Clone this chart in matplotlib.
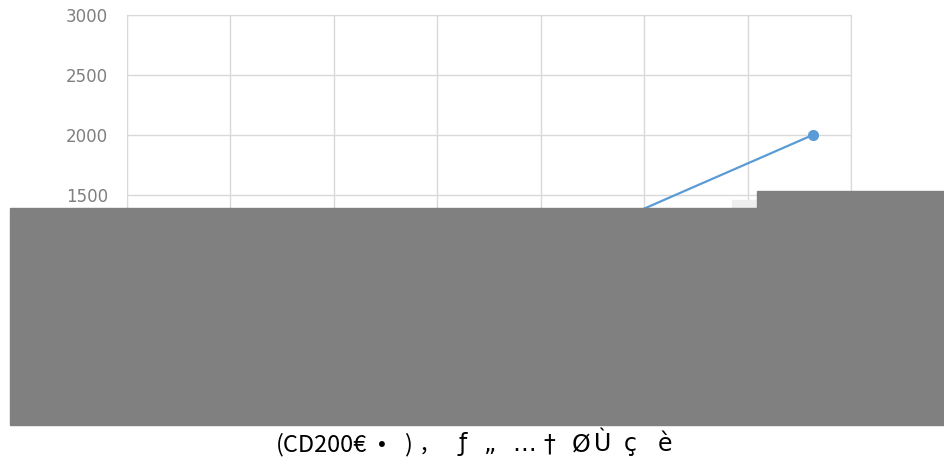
import matplotlib.pyplot as plt
from matplotlib.patches import Rectangle

# data (lower part is hidden by the grey box in the reference)
x_vals = [1.0, 2.5, 4.0, 6.63]
y_vals = [420, 650, 1010, 2000]
y_ticks = [0, 500, 1000, 1500, 2000, 2500, 3000]
caption_parts = ["(CD200€", "•", ")", ",", "ƒ", "„", "…", "†", "Ø", "Ù", "ç", "è"]

# pixel x of each caption part (first is left edge, rest are centres)
caption_px = [276, 382, 408, 424, 463, 490, 524, 549, 581, 603, 630, 665]

W, H = 945, 462
fig = plt.figure(figsize=(W / 100, H / 100), dpi=100)
ax = fig.add_axes([127 / W, (H - 375) / H, (851 - 127) / W, 360 / H])

ax.plot(x_vals, y_vals, color="#5B9BD5", lw=1.6, zorder=3)
ax.plot(x_vals[-1:], y_vals[-1:], "o", color="#5B9BD5", ms=7, zorder=4)

ax.set_xlim(0, 7)
ax.set_ylim(0, 3000)
ax.set_xticks(range(8))
ax.set_yticks(y_ticks)
ax.tick_params(axis="x", labelbottom=False, length=0)
ax.tick_params(axis="y", length=0, pad=13.5, labelsize=12, labelcolor="#7f7f7f")
ax.grid(True, color="#d9d9d9", lw=1)
for s in ax.spines.values():
    s.set_color("#d9d9d9")

# grey cover boxes
fig.patches.append(Rectangle((10 / W, (H - 425) / H), 935 / W, 217 / H,
                             transform=fig.transFigure, color="#808080", zorder=10))
fig.patches.append(Rectangle((757 / W, (H - 208) / H), 188 / W, 17 / H,
                             transform=fig.transFigure, color="#808080", zorder=10))
fig.patches.append(Rectangle((732 / W, (H - 208) / H), 25 / W, 8 / H,
                             transform=fig.transFigure, color="#eeeeee", zorder=9))

for i, (part, px) in enumerate(zip(caption_parts, caption_px)):
    if i < 4:
        fam = ["Noto Sans CJK JP", "DejaVu Sans"]
    else:
        fam = ["DejaVu Sans"]
    fig.text(px / W, (H - 451) / H, part, ha="left" if i == 0 else "center",
             va="baseline", fontsize=17, family=fam)

fig.savefig("out.png", dpi=100)
